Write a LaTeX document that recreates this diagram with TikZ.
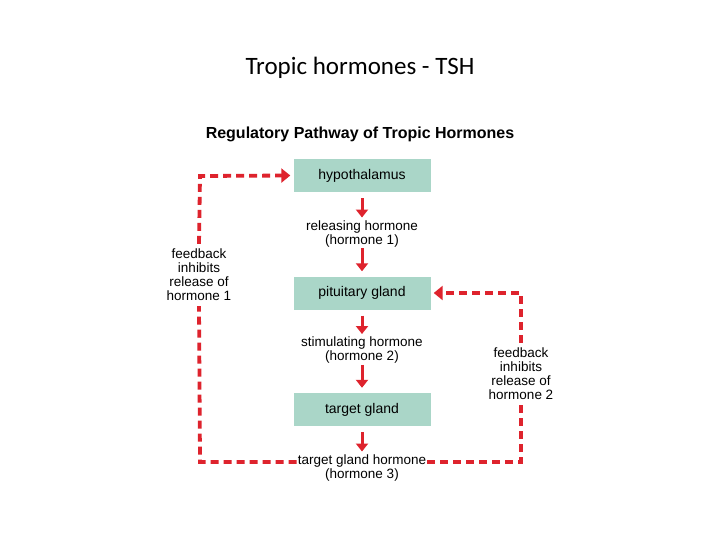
\documentclass[tikz,border=0pt]{standalone}
\usepackage{fontspec}
\setmainfont{Liberation Sans}
\newfontfamily\titlefont{Carlito}
\usetikzlibrary{arrows.meta}
\definecolor{boxc}{RGB}{170,214,200}
\definecolor{redc}{RGB}{222,35,45}
\begin{document}
\begin{tikzpicture}[x=1pt,y=-1pt,
  gland/.style={fill=boxc,minimum width=137pt,minimum height=33pt,font=\fontsize{14}{16}\selectfont},
  lbl/.style={align=center,font=\fontsize{13.5}{14}\selectfont,inner sep=1pt},
  flow/.style={redc,line width=3pt,-{Triangle[length=8pt,width=12pt]}},
  fb/.style={redc,line width=3.8pt,dash pattern=on 8pt off 5pt},
  fba/.style={fb,-{Triangle[length=9pt,width=14pt]}}]
\fill[white] (0,0) rectangle (720,540);
\node (title) at (360,68) {\titlefont\fontsize{25}{28}\selectfont Tropic hormones - TSH};
\node (sub) at (360,134) {\bfseries\fontsize{16}{18}\selectfont Regulatory Pathway of Tropic Hormones};
\node[gland] (hyp) at (362,175.5) {hypothalamus};
\node[gland] (pit) at (362,293) {pituitary gland};
\node[gland] (tgt) at (362,409.5) {target gland};
\node[lbl] (h1) at (362,234) {releasing hormone\\(hormone 1)};
\node[lbl] (h2) at (362,350.5) {stimulating hormone\\(hormone 2)};
\node[lbl] (h3) at (362,468) {target gland hormone\\(hormone 3)};
\node[lbl] (fb1) at (199,275) {feedback\\inhibits\\release of\\hormone 1};
\node[lbl] (fb2) at (521,374) {feedback\\inhibits\\release of\\hormone 2};
\draw[flow] ([yshift=-6pt]hyp.south) -- ([yshift=2pt]h1.north);
\draw[flow] (h1.south) -- ([yshift=5pt]pit.north);
\draw[flow] ([yshift=-6pt]pit.south) -- ([yshift=2pt]h2.north);
\draw[flow] (h2.south) -- ([yshift=5pt]tgt.north);
\draw[flow] ([yshift=-6pt]tgt.south) -- ([yshift=2pt]h3.north);
\coordinate (l1) at (200,462);
\coordinate (l2) at (200,176);
\coordinate (r1) at (521,462);
\coordinate (r2) at (521,293);
\draw[fb] (h3.west |- l1) -- (l1) -- ([yshift=-4pt]fb1.south);
\draw[fba] ([yshift=4pt]fb1.north) -- (l2) -- ([xshift=-3pt]hyp.west);
\draw[fb] (h3.east |- r1) -- (r1) -- ([yshift=-4pt]fb2.south);
\draw[fba] ([yshift=4pt]fb2.north) -- (r2) -- ([xshift=3pt]pit.east);
\end{tikzpicture}
\end{document}
